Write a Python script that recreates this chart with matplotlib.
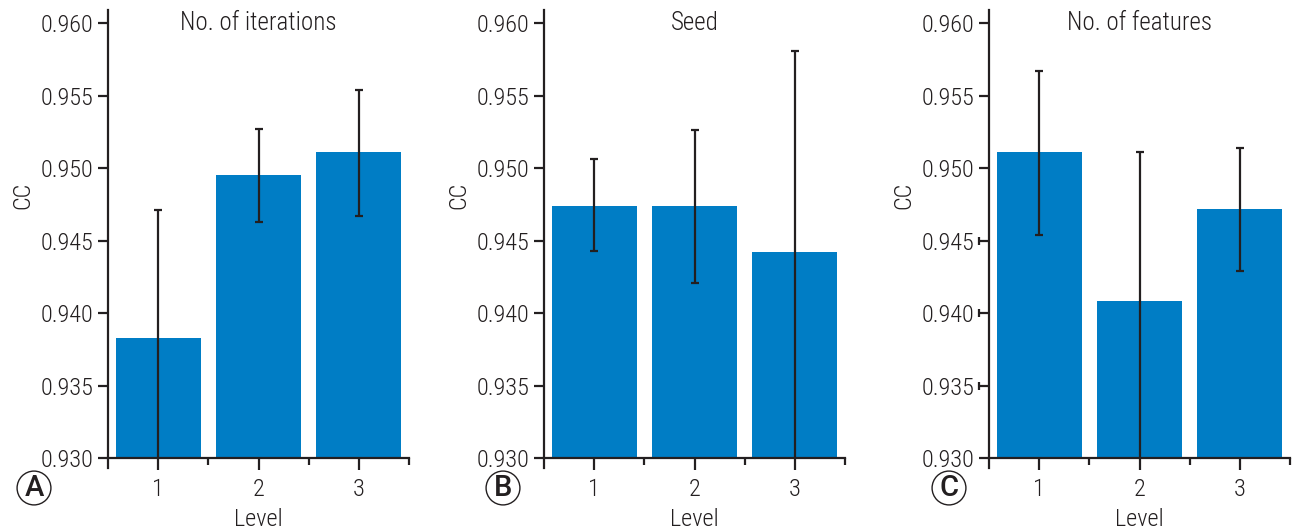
import numpy as np
import matplotlib
matplotlib.use("Agg")
import matplotlib.pyplot as plt
import matplotlib.transforms as mtransforms

plt.rcParams['font.family'] = ['Roboto Condensed', 'DejaVu Sans']
plt.rcParams['font.weight'] = 300
plt.rcParams['axes.labelweight'] = 300

levels = [1, 2, 3]
titles = ["No. of iterations", "Seed", "No. of features"]
panel_tags = ["A", "B", "C"]

# bar heights, upper and lower error lengths
iter_cc = [0.9383, 0.9495, 0.9511]
iter_up = [0.0088, 0.0032, 0.0043]
iter_lo = [0.0095, 0.0032, 0.0044]
seed_cc = [0.9474, 0.9474, 0.9442]
seed_up = [0.0032, 0.0052, 0.0139]
seed_lo = [0.0031, 0.0053, 0.0150]
feat_cc = [0.9511, 0.9408, 0.9472]
feat_up = [0.0056, 0.0103, 0.0042]
feat_lo = [0.0057, 0.0115, 0.0043]

y_ticks = [0.930, 0.935, 0.940, 0.945, 0.950, 0.955, 0.960]
# ticks in panel C that carry a small end bar in the original
odd_ticks = [0.935, 0.940, 0.945]

bar_color = "#007DC5"
ink = "#231F20"

fig = plt.figure(figsize=(12.93, 5.28), dpi=100)
lefts = [108 / 1293, 544 / 1293, 989 / 1293]
panels = [(iter_cc, iter_lo, iter_up), (seed_cc, seed_lo, seed_up),
          (feat_cc, feat_lo, feat_up)]

for i, (vals, lo, up) in enumerate(panels):
    ax = fig.add_axes([lefts[i], 70 / 528, 301 / 1293, 448 / 528])
    ax.bar(levels, vals, width=0.85, color=bar_color, zorder=1)
    ax.errorbar(levels, vals, yerr=[lo, up], fmt="none", ecolor=ink,
                elinewidth=1.6, capsize=3, capthick=1.6, zorder=3)
    ax.set_xlim(0.5, 3.5)
    ax.set_ylim(0.930, 0.9609)

    for s in ["top", "right"]:
        ax.spines[s].set_visible(False)
    for s in ["left", "bottom"]:
        ax.spines[s].set_color(ink)
        ax.spines[s].set_linewidth(1.6)
    ax.spines["left"].set_bounds(0.9293, 0.9609)

    ax.set_yticks(y_ticks)
    ax.set_yticklabels([f"{t:.3f}" for t in y_ticks])
    ax.set_xticks(levels)
    ax.set_xticks([1.5, 2.5, 3.5], minor=True)
    ax.tick_params(axis="y", length=7.5, width=1.6, color=ink, labelsize=17.5,
                   labelcolor=ink, pad=3)
    ax.tick_params(axis="x", which="major", length=8.5, width=1.6, color=ink,
                   labelsize=17.5, labelcolor=ink, pad=6)
    ax.tick_params(axis="x", which="minor", length=5, width=1.6, color=ink)

    ax.set_ylabel("CC", fontsize=17.5, color=ink)
    ax.yaxis.set_label_coords(-0.245, 0.587)
    ax.set_xlabel("Level", fontsize=17.5, color=ink)
    ax.xaxis.set_label_coords(0.5, -0.112)

    trans = mtransforms.blended_transform_factory(ax.transAxes, ax.transData)
    ax.text(0.5, 0.9600, titles[i], transform=trans, ha="center", va="center",
            fontsize=18, color=ink)

    if i == 2:
        ax.plot([-0.0345] * len(odd_ticks), odd_ticks, linestyle="none",
                marker="|", markersize=6, mew=1.6, color=ink,
                transform=trans, clip_on=False)

    cx = [34, 503, 949][i] / 1293
    fig.text(cx, 1 - 488 / 528, panel_tags[i], ha="center", va="center",
             fontsize=21, color=ink, family="Roboto", weight=500,
             bbox=dict(boxstyle="circle,pad=0.1", fc="white", ec=ink, lw=1))

fig.savefig("out.png", dpi=100)
